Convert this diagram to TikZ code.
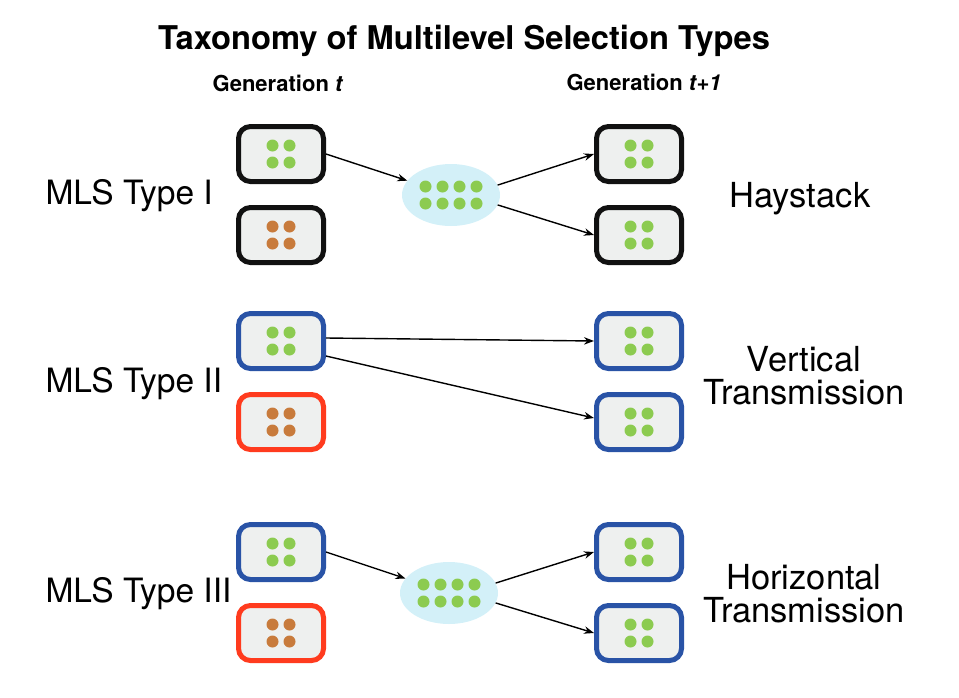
\documentclass[tikz,border=0pt]{standalone}
\usepackage{fontspec}
\setmainfont{TeX Gyre Heros}
\usetikzlibrary{arrows.meta,shapes.geometric}
\definecolor{cellgray}{HTML}{EEF0EF}
\definecolor{cellblack}{HTML}{111111}
\definecolor{cellblue}{HTML}{2953A6}
\definecolor{cellred}{HTML}{FF3B1E}
\definecolor{dotgreen}{HTML}{8CCB50}
\definecolor{dotbrown}{HTML}{C87B3C}
\definecolor{poolblue}{HTML}{D3F0F8}
\begin{document}
\begin{tikzpicture}[x=1pt,y=-1pt,
        cell/.style={rectangle, rounded corners=12pt, line width=5pt, fill=cellgray,
            minimum width=85pt, minimum height=55pt, inner sep=0pt},
        greencell/.style={cell, path picture={
            \foreach \dx in {-8.5,8.5} \foreach \dy in {-8.5,8.5}
                \fill [dotgreen] ([shift={(\dx pt,\dy pt)}]path picture bounding box.center) circle (6pt);}},
        browncell/.style={cell, path picture={
            \foreach \dx in {-8.5,8.5} \foreach \dy in {-8.5,8.5}
                \fill [dotbrown] ([shift={(\dx pt,\dy pt)}]path picture bounding box.center) circle (6pt);}},
        pool/.style={ellipse, fill=poolblue, minimum width=98pt, minimum height=62pt, inner sep=0pt,
            path picture={
            \foreach \dx in {-25.5,-8.5,8.5,25.5} \foreach \dy in {-8.5,8.5}
                \fill [dotgreen] ([shift={(\dx pt,\dy pt)}]path picture bounding box.center) circle (6pt);}},
        heading/.style={font=\bfseries\fontsize{22}{24}\selectfont},
        rowlabel/.style={font=\fontsize{34.5}{33}\selectfont},
        typelabel/.style={font=\fontsize{33.5}{33}\selectfont, anchor=base west},
        arr/.style={line width=1.4pt, -{Stealth[length=10pt,width=7.5pt]}}]
    \useasboundingbox (0,0) rectangle (959,697);
    % titles
    \node [anchor=base, font=\bfseries\fontsize{32.7}{34}\selectfont] (title) at (464,49) {Taxonomy of Multilevel Selection Types};
    \node [heading, anchor=base] (gent) at (278,91) {Generation \textit{t}};
    \node [heading, anchor=base] (gennext) at (644,90) {Generation \textit{t+1}};
    % MLS Type I
    \node [typelabel] (mls1) at (42,204) {MLS Type I};
    \node [greencell, draw=cellblack] (a1) at (281,154) {};
    \node [browncell, draw=cellblack] (b1) at (281,235) {};
    \node [pool] (pool1) at (451,195) {};
    \node [greencell, draw=cellblack] (c1) at (639,154) {};
    \node [greencell, draw=cellblack] (d1) at (639,235) {};
    \node [rowlabel, anchor=base] (hay) at (800,207) {Haystack};
    \draw [arr] (a1.east) -- (pool1);
    \draw [arr] (pool1.12) -- (c1.west);
    \draw [arr] (pool1.-12) -- (d1.west);
    % MLS Type II
    \node [typelabel] (mls2) at (42,392) {MLS Type II};
    \node [greencell, draw=cellblue] (a2) at (281,341) {};
    \node [browncell, draw=cellred] (b2) at (281,422) {};
    \node [greencell, draw=cellblue] (c2) at (639,341) {};
    \node [greencell, draw=cellblue] (d2) at (639,422) {};
    \node [rowlabel, align=center] (vert) at (804,376) {Vertical\\Transmission};
    \draw [arr] ([yshift=3pt]a2.east) -- (c2.west);
    \draw [arr] ([yshift=-15pt]a2.east) -- ([yshift=4pt]d2.west);
    % MLS Type III
    \node [typelabel] (mls3) at (42,602) {MLS Type III};
    \node [greencell, draw=cellblue] (a3) at (281,552) {};
    \node [browncell, draw=cellred] (b3) at (281,633) {};
    \node [pool] (pool3) at (449,593) {};
    \node [greencell, draw=cellblue] (c3) at (639,552) {};
    \node [greencell, draw=cellblue] (d3) at (639,633) {};
    \node [rowlabel, align=center] (horiz) at (804,594) {Horizontal\\Transmission};
    \draw [arr] (a3.east) -- (pool3);
    \draw [arr] (pool3.12) -- (c3.west);
    \draw [arr] (pool3.-12) -- (d3.west);
\end{tikzpicture}
\end{document}
